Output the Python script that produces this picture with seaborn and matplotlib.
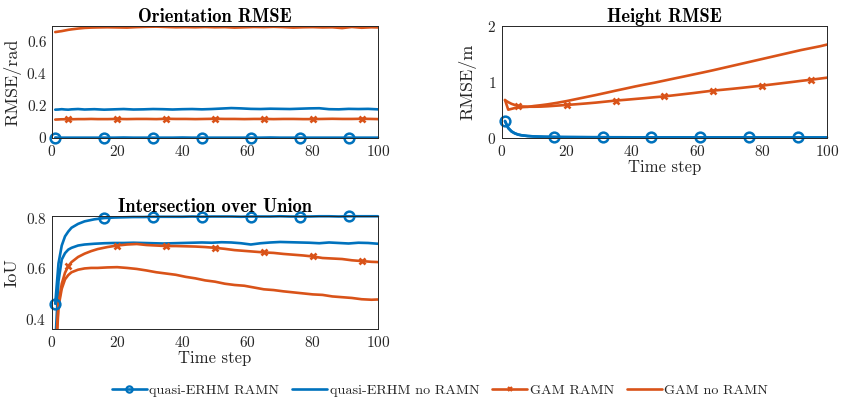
import matplotlib
matplotlib.use("Agg")
import matplotlib.pyplot as plt
from matplotlib.lines import Line2D
import seaborn as sns

# Time steps at which each filter's results are stored
t_quasi = [1, 2, 3, 4, 5, 6, 8, 10, 13, 16, 19, 22, 25, 28, 31, 34, 37, 40, 43, 46,
           49, 52, 55, 58, 61, 64, 67, 70, 73, 76, 79, 82, 85, 88, 91, 94, 97, 100]
t_gam = [1, 2, 3, 4, 5, 6, 8, 10, 12, 14, 17, 20, 23, 26, 29, 32, 35, 38, 41, 44,
         47, 50, 53, 56, 59, 62, 65, 68, 71, 74, 77, 80, 83, 86, 89, 92, 95, 98, 100]

# Steps that carry a marker
quasi_marker_steps = [1, 16, 31, 46, 61, 76, 91]
gam_marker_steps = [5, 20, 35, 50, 65, 80, 95]

labels = ["quasi-ERHM RAMN", "quasi-ERHM no RAMN", "GAM RAMN", "GAM no RAMN"]

# Orientation RMSE [rad]
orient_quasi_ramn = [0.003, 0.002, 0.002, 0.002, 0.002, 0.002, 0.002, 0.002, 0.002, 0.002,
                     0.002, 0.003, 0.002, 0.002, 0.002, 0.002, 0.002, 0.003, 0.002, 0.002,
                     0.002, 0.002, 0.002, 0.002, 0.002, 0.002, 0.003, 0.002, 0.002, 0.002,
                     0.002, 0.002, 0.002, 0.002, 0.002, 0.002, 0.002, 0.002]
orient_quasi_noramn = [0.177, 0.178, 0.180, 0.178, 0.177, 0.179, 0.181, 0.178, 0.180, 0.177,
                       0.179, 0.181, 0.178, 0.179, 0.181, 0.180, 0.178, 0.180, 0.181, 0.179,
                       0.181, 0.184, 0.187, 0.185, 0.182, 0.181, 0.183, 0.182, 0.181, 0.183,
                       0.185, 0.186, 0.180, 0.179, 0.182, 0.181, 0.182, 0.179]
orient_gam_ramn = [0.115, 0.116, 0.117, 0.117, 0.118, 0.117, 0.118, 0.118, 0.119, 0.118,
                   0.118, 0.119, 0.118, 0.119, 0.119, 0.118, 0.120, 0.119, 0.119, 0.118,
                   0.119, 0.120, 0.119, 0.119, 0.118, 0.119, 0.119, 0.118, 0.119, 0.119,
                   0.118, 0.118, 0.119, 0.120, 0.119, 0.119, 0.120, 0.119, 0.118]
orient_gam_noramn = [0.662, 0.665, 0.668, 0.672, 0.676, 0.679, 0.684, 0.688, 0.690, 0.691,
                     0.692, 0.691, 0.690, 0.693, 0.695, 0.696, 0.694, 0.692, 0.693, 0.692,
                     0.694, 0.692, 0.693, 0.690, 0.692, 0.694, 0.693, 0.695, 0.693, 0.690,
                     0.692, 0.693, 0.691, 0.692, 0.687, 0.694, 0.689, 0.692, 0.691]

# Height RMSE [m]
height_quasi_ramn = [0.305, 0.180, 0.120, 0.085, 0.063, 0.050, 0.036, 0.028, 0.022, 0.019,
                     0.017, 0.016, 0.015, 0.014, 0.014, 0.013, 0.013, 0.012, 0.012, 0.012,
                     0.011, 0.011, 0.011, 0.010, 0.010, 0.010, 0.010, 0.010, 0.010, 0.010,
                     0.009, 0.009, 0.009, 0.009, 0.009, 0.009, 0.009, 0.009]
height_quasi_noramn = [0.300, 0.175, 0.115, 0.082, 0.060, 0.048, 0.034, 0.027, 0.021, 0.018,
                       0.016, 0.015, 0.014, 0.013, 0.013, 0.012, 0.012, 0.011, 0.011, 0.011,
                       0.010, 0.010, 0.010, 0.010, 0.009, 0.009, 0.009, 0.009, 0.009, 0.009,
                       0.008, 0.008, 0.008, 0.008, 0.008, 0.008, 0.008, 0.008]
height_gam_ramn = [0.675, 0.640, 0.610, 0.590, 0.573, 0.563, 0.558, 0.558, 0.560, 0.566,
                   0.578, 0.590, 0.603, 0.617, 0.632, 0.650, 0.668, 0.682, 0.697, 0.712,
                   0.728, 0.743, 0.763, 0.783, 0.803, 0.825, 0.846, 0.862, 0.879, 0.897,
                   0.916, 0.935, 0.956, 0.977, 0.998, 1.020, 1.040, 1.062, 1.077]
height_gam_noramn = [0.680, 0.505, 0.520, 0.535, 0.545, 0.550, 0.556, 0.572, 0.585, 0.600,
                     0.628, 0.660, 0.696, 0.732, 0.768, 0.806, 0.845, 0.882, 0.920, 0.955,
                     0.988, 1.025, 1.062, 1.098, 1.135, 1.172, 1.210, 1.250, 1.290, 1.330,
                     1.370, 1.410, 1.450, 1.490, 1.530, 1.570, 1.605, 1.640, 1.668]

# Intersection over Union
iou_quasi_ramn = [0.461, 0.620, 0.690, 0.726, 0.745, 0.760, 0.775, 0.785, 0.793, 0.798,
                  0.800, 0.801, 0.802, 0.802, 0.803, 0.803, 0.803, 0.803, 0.804, 0.803,
                  0.804, 0.804, 0.804, 0.803, 0.804, 0.804, 0.804, 0.805, 0.804, 0.804,
                  0.804, 0.805, 0.805, 0.804, 0.805, 0.805, 0.805, 0.805]
iou_quasi_noramn = [0.300, 0.550, 0.635, 0.660, 0.674, 0.681, 0.690, 0.694, 0.697, 0.699,
                    0.700, 0.700, 0.701, 0.700, 0.699, 0.698, 0.699, 0.700, 0.701, 0.702,
                    0.701, 0.703, 0.702, 0.699, 0.694, 0.699, 0.702, 0.704, 0.703, 0.702,
                    0.701, 0.699, 0.702, 0.700, 0.698, 0.701, 0.700, 0.697]
iou_gam_ramn = [0.250, 0.460, 0.540, 0.583, 0.609, 0.625, 0.645, 0.658, 0.668, 0.676,
                0.684, 0.690, 0.694, 0.696, 0.692, 0.690, 0.688, 0.688, 0.687, 0.686,
                0.684, 0.681, 0.677, 0.672, 0.669, 0.666, 0.663, 0.661, 0.657, 0.654,
                0.651, 0.647, 0.641, 0.639, 0.637, 0.632, 0.629, 0.626, 0.625]
iou_gam_noramn = [0.200, 0.450, 0.520, 0.557, 0.574, 0.585, 0.595, 0.600, 0.602, 0.602,
                  0.604, 0.605, 0.602, 0.598, 0.592, 0.585, 0.580, 0.575, 0.567, 0.561,
                  0.553, 0.548, 0.540, 0.535, 0.532, 0.525, 0.518, 0.515, 0.510, 0.506,
                  0.502, 0.498, 0.496, 0.490, 0.487, 0.484, 0.479, 0.477, 0.478]

BLUE = "#0072BD"
ORANGE = "#D95319"
TXT = "#262626"
LW = 1.9

sns.set_style("white")
plt.rcParams["font.family"] = ["cmr10", "DejaVu Serif"]
plt.rcParams["mathtext.fontset"] = "cm"
plt.rcParams["axes.formatter.use_mathtext"] = True
plt.rcParams["axes.unicode_minus"] = False

fig = plt.figure(figsize=(8.41, 4.03), dpi=100)
ax_o = fig.add_axes([0.0618, 0.6576, 0.3876, 0.2779])
ax_h = fig.add_axes([0.5966, 0.6576, 0.3868, 0.2779])
ax_i = fig.add_axes([0.0618, 0.1836, 0.3876, 0.2804])


def marker_idx(times, steps):
    return [i for i, t in enumerate(times) if t in steps]


def draw(ax, q_ramn, q_noramn, g_ramn, g_noramn):
    sns.lineplot(x=t_quasi, y=q_noramn, ax=ax, color=BLUE, lw=LW, legend=False)
    sns.lineplot(x=t_gam, y=g_noramn, ax=ax, color=ORANGE, lw=LW, legend=False)
    sns.lineplot(x=t_gam, y=g_ramn, ax=ax, color=ORANGE, lw=LW,
                 marker="x", markersize=5, markeredgewidth=1.9,
                 markeredgecolor=ORANGE,
                 markevery=marker_idx(t_gam, gam_marker_steps), legend=False)
    sns.lineplot(x=t_quasi, y=q_ramn, ax=ax, color=BLUE, lw=LW,
                 marker="o", markersize=7, markeredgewidth=1.8,
                 markeredgecolor=BLUE, markerfacecolor="none",
                 markevery=marker_idx(t_quasi, quasi_marker_steps),
                 legend=False, clip_on=False)
    ax.set_xlim(0, 100)
    ax.set_xticks([0, 20, 40, 60, 80, 100])
    ax.tick_params(direction="in", length=3, width=0.6, labelsize=11,
                   colors=TXT, pad=4)
    for s in ax.spines.values():
        s.set_color(TXT)
        s.set_linewidth(0.7)
    ax.set_xlabel("")
    ax.set_ylabel("")


TITLE_KW = dict(fontsize=13.3, family="cmb10", color="black", pad=3)

draw(ax_o, orient_quasi_ramn, orient_quasi_noramn, orient_gam_ramn, orient_gam_noramn)
ax_o.set_ylim(0, 0.7)
ax_o.set_yticks([0, 0.2, 0.4, 0.6])
ax_o.set_yticklabels(["0", "0.2", "0.4", "0.6"])
ax_o.set_ylabel("RMSE/rad", fontsize=13, color=TXT, labelpad=4)
ax_o.set_title("Orientation RMSE", **TITLE_KW)

draw(ax_h, height_quasi_ramn, height_quasi_noramn, height_gam_ramn, height_gam_noramn)
ax_h.set_ylim(0, 2)
ax_h.set_yticks([0, 1, 2])
ax_h.set_ylabel("RMSE/m", fontsize=13, color=TXT, labelpad=8)
ax_h.set_xlabel("Time step", fontsize=12, color=TXT, labelpad=1)
ax_h.set_title("Height RMSE", **TITLE_KW)

draw(ax_i, iou_quasi_ramn, iou_quasi_noramn, iou_gam_ramn, iou_gam_noramn)
ax_i.set_ylim(0.362, 0.806)
ax_i.set_yticks([0.4, 0.6, 0.8])
ax_i.set_ylabel("IoU", fontsize=13, color=TXT, labelpad=4)
ax_i.set_xlabel("Time step", fontsize=12, color=TXT, labelpad=1)
ax_i.set_title("Intersection over Union", **TITLE_KW)

# Legend keys with compact markers
handles = [
    Line2D([], [], color=BLUE, lw=LW, marker="o", markersize=4.5,
           markeredgewidth=1.6, markerfacecolor="none", markeredgecolor=BLUE),
    Line2D([], [], color=BLUE, lw=LW),
    Line2D([], [], color=ORANGE, lw=LW, marker="x", markersize=3.5,
           markeredgewidth=1.6, markeredgecolor=ORANGE),
    Line2D([], [], color=ORANGE, lw=LW),
]
fig.legend(handles, labels, loc="center", bbox_to_anchor=(0.523, 0.032), ncol=4,
           frameon=False, fontsize=10.2, handlelength=2.5, columnspacing=0.9,
           handletextpad=0.15, labelcolor=TXT)

fig.savefig("out.png", dpi=100)
